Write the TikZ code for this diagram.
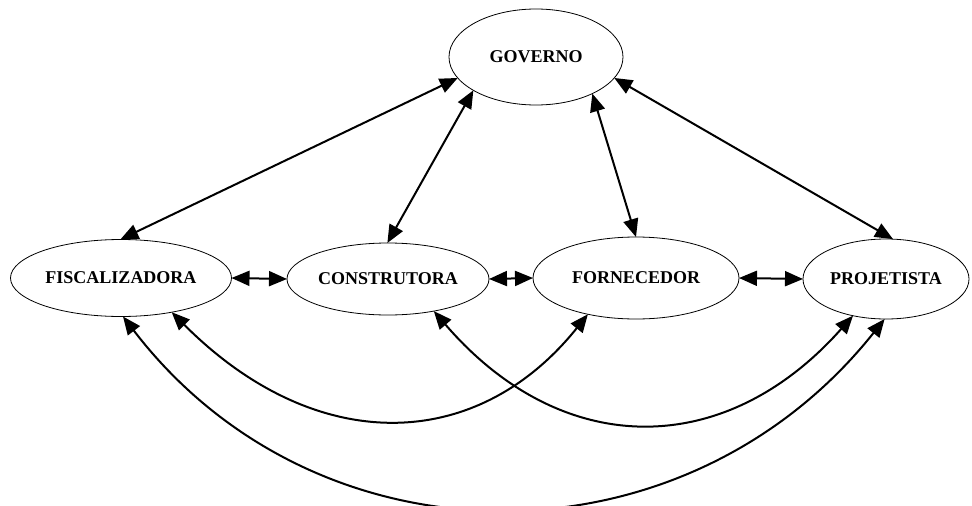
\documentclass[tikz,border=0pt]{standalone}
\usepackage{fontspec}
\setmainfont{Liberation Serif}
\usetikzlibrary{shapes.geometric,arrows.meta}
\begin{document}
\begin{tikzpicture}[x=1pt,y=-1pt,
  ent/.style={draw,ellipse,line width=0.8pt,inner sep=0pt,outer sep=0pt,
    font=\fontsize{18}{20}\selectfont\bfseries},
  arr/.style={line width=2pt,{Triangle[length=18pt,width=15pt]}-{Triangle[length=18pt,width=15pt]}}]
\useasboundingbox (0,0) rectangle (972,506);
\node[ent,minimum width=174pt,minimum height=96pt] (gov) at (536,57) {GOVERNO};
\node[ent,minimum width=221pt,minimum height=77pt] (fis) at (121,278) {FISCALIZADORA};
\node[ent,minimum width=202pt,minimum height=72pt] (con) at (388,279) {CONSTRUTORA};
\node[ent,minimum width=206pt,minimum height=82pt] (for) at (636,278) {FORNECEDOR};
\node[ent,minimum width=166pt,minimum height=80pt] (pro) at (886,279) {PROJETISTA};
% from governo
\draw[arr] (gov.195) -- (fis.91);
\draw[arr] (gov.208) -- (con.91);
\draw[arr] (gov.-33) -- (for.90);
\draw[arr] (gov.-15) -- (pro.80);
% horizontal
\draw[arr] (fis.0) -- (con.180);
\draw[arr] (con.0) -- (for.180);
\draw[arr] (for.0) -- (pro.180);
% curves
\draw[arr] (fis.-34.5) .. controls (314,455) and (475,455) .. (for.-143);
\draw[arr] (con.-35.7) .. controls (562,460) and (725,460) .. (pro.-132.5);
\draw[arr] (fis.-87) .. controls (318,571) and (684,571) .. (pro.-92);
\end{tikzpicture}
\end{document}
